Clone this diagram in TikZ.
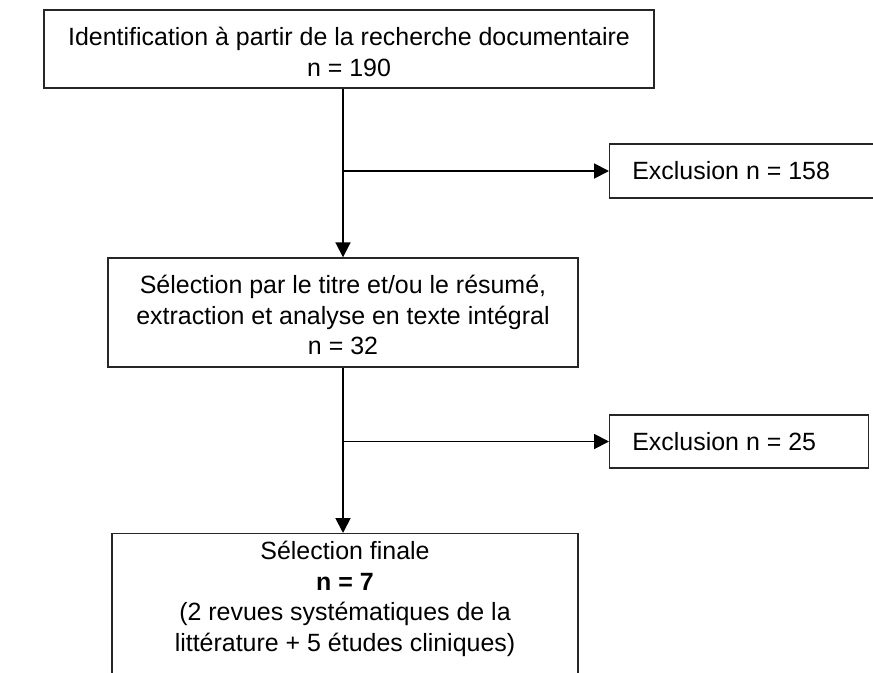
\documentclass[tikz,border=0pt]{standalone}
\usepackage{fontspec}
\setmainfont{Liberation Sans}
\usepackage{tikz}
\usetikzlibrary{arrows.meta}

\begin{document}
\begin{tikzpicture}[x=0.02cm,y=-0.02cm,
  box/.style={draw=black!85,line width=0.8pt,rectangle,align=center,inner sep=0pt},
  txt/.style={draw=none,align=center,inner sep=0pt,font=\fontsize{14.2pt}{17.4pt}\selectfont},
  flow/.style={line width=1.1pt,-{Triangle[length=8.5pt,width=8.5pt]}}]
\useasboundingbox[fill=white] (0,0) rectangle (873,673);
% boites
\node[box,minimum width=610*0.02cm,minimum height=78*0.02cm] (ident) at (349,49) {};
\node[txt] (identtxt) at (349,52) {Identification à partir de la recherche documentaire\\n = 190};
\node[box,minimum width=300*0.02cm,minimum height=54*0.02cm,anchor=west] (excl1) at (609,171) {};
\node[txt,anchor=west] (excl1txt) at (632,171) {Exclusion n = 158};
\node[box,minimum width=470*0.02cm,minimum height=109*0.02cm] (sel) at (343,312.5) {};
\node[txt] (seltxt) at (343,315) {Sélection par le titre et/ou le résumé,\\extraction et analyse en texte intégral\\n = 32};
\node[box,minimum width=259*0.02cm,minimum height=53*0.02cm,anchor=west] (excl2) at (609,441.5) {};
\node[txt,anchor=west] (excl2txt) at (632,441.5) {Exclusion n = 25};
\node[box,minimum width=466*0.02cm,minimum height=220*0.02cm,anchor=north] (final) at (345,533) {};
\node[txt,anchor=north] (finaltxt) at (345,541) {Sélection finale\\\textbf{n = 7}\\(2 revues systématiques de la\\littérature + 5 études cliniques)};
% fleches
\coordinate (b1) at (343,171);
\coordinate (b2) at (343,441.5);
\draw[flow] (ident.south -| b1) -- (sel.north -| b1);
\draw[flow] (b1) -- (excl1.west |- b1);
\draw[flow] (sel.south -| b2) -- (final.north -| b2);
\draw[flow] (b2) -- (excl2.west |- b2);
\end{tikzpicture}
\end{document}
